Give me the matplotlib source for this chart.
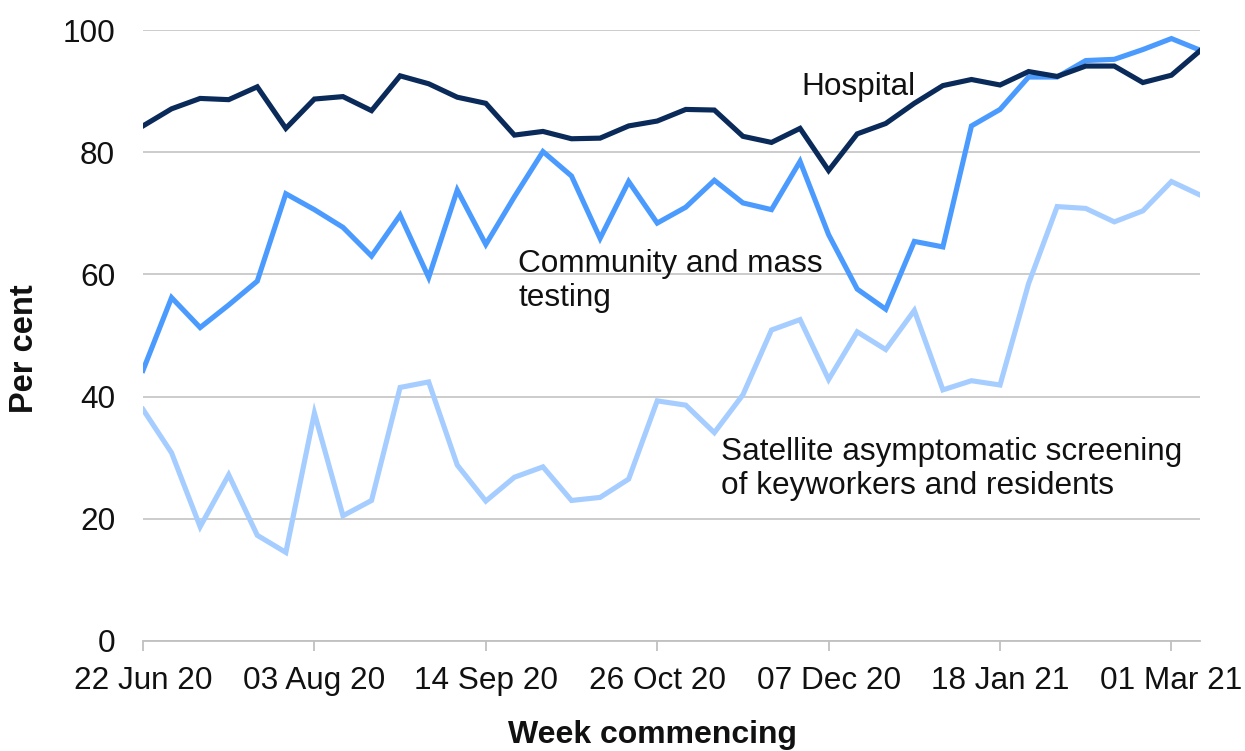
import pandas as pd
import numpy as np
import matplotlib
matplotlib.use('Agg')
import matplotlib.pyplot as plt
import matplotlib.dates as mdates

plt.rcParams['font.family'] = ['Liberation Sans', 'DejaVu Sans']

# weekly data, w/c 22 Jun 20 .. 08 Mar 21
weeks = pd.date_range('2020-06-22', periods=38, freq='7D')

hospital = [84.3, 87.1, 88.8, 88.6, 90.7, 83.9, 88.7, 89.1, 86.8, 92.5,
            91.2, 89.0, 88.0, 82.8, 83.4, 82.2, 82.3, 84.3, 85.1, 87.0,
            86.9, 82.6, 81.6, 83.9, 77.0, 83.0, 84.7, 88.0, 90.9, 91.9,
            91.0, 93.2, 92.4, 94.1, 94.1, 91.4, 92.6, 96.6]

community = [44.3, 56.2, 51.3, 55.0, 58.9, 73.2, 70.6, 67.7, 63.0, 69.7,
             59.5, 73.8, 64.9, 72.7, 80.1, 76.1, 65.9, 75.2, 68.4, 71.0,
             75.4, 71.7, 70.6, 78.5, 66.5, 57.6, 54.3, 65.4, 64.5, 84.3,
             87.0, 92.3, 92.3, 95.0, 95.2, 96.8, 98.6, 96.7]

satellite = [37.9, 30.8, 18.7, 27.2, 17.3, 14.5, 37.3, 20.5, 23.0, 41.5,
             42.4, 28.8, 22.9, 26.8, 28.5, 23.0, 23.5, 26.5, 39.3, 38.6,
             34.1, 40.3, 50.9, 52.6, 42.8, 50.6, 47.7, 54.1, 41.1, 42.6,
             41.9, 58.5, 71.1, 70.8, 68.6, 70.4, 75.2, 73.0]

series = [('Hospital', hospital, '#0a2a5a'),
          ('Community and mass\ntesting', community, '#4b9bff'),
          ('Satellite asymptomatic screening\nof keyworkers and residents', satellite, '#a6cdff')]

# label anchors (week index, value) for the in-chart labels
label_pos = [(23.05, 93.1), (13.13, 64.2), (20.25, 33.4)]

fs = 22.7
fig = plt.figure(figsize=(12.45, 7.51), dpi=100)
ax = fig.add_axes([143/1245, 110/751, 1057/1245, 611/751])

for (name, vals, col) in series[::-1]:
    ax.plot(weeks, vals, color=col, lw=3.7, solid_joinstyle='miter')

for (name, vals, col), (xi, yv) in zip(series, label_pos):
    xd = weeks[0] + pd.Timedelta(days=7 * xi)
    ax.text(xd, yv, name, fontsize=fs, color='#111111', ha='left', va='top',
            linespacing=1.17)

ax.set_ylim(0, 100)
ax.set_xlim(weeks[0], weeks[-1])
ax.set_yticks(np.arange(0, 101, 20))
ax.set_xticks(weeks[::6])
ax.xaxis.set_major_formatter(mdates.DateFormatter('%d %b %y'))

ax.grid(axis='y', color='#c8c8c8', lw=1.3)
ax.set_axisbelow(True)
for s in ['top', 'right', 'left']:
    ax.spines[s].set_visible(False)
ax.spines['bottom'].set_color('#c0c0c0')
ax.spines['bottom'].set_linewidth(1.3)

ax.tick_params(axis='y', length=0, pad=20, labelsize=fs, labelcolor='#111111')
ax.tick_params(axis='x', length=7.2, width=1.3, color='#c0c0c0', pad=11,
               labelsize=fs, labelcolor='#111111')

ax.set_ylabel('Per cent', fontsize=23.5, fontweight='bold', color='#111111')
ax.yaxis.set_label_coords(-0.112, 0.478)
ax.set_xlabel('Week commencing', fontsize=23, fontweight='bold', color='#111111')
ax.xaxis.set_label_coords(0.482, -0.154)
ax.xaxis.label.set_va('center')
ax.yaxis.label.set_va('center')

fig.savefig('out.png', dpi=100)
